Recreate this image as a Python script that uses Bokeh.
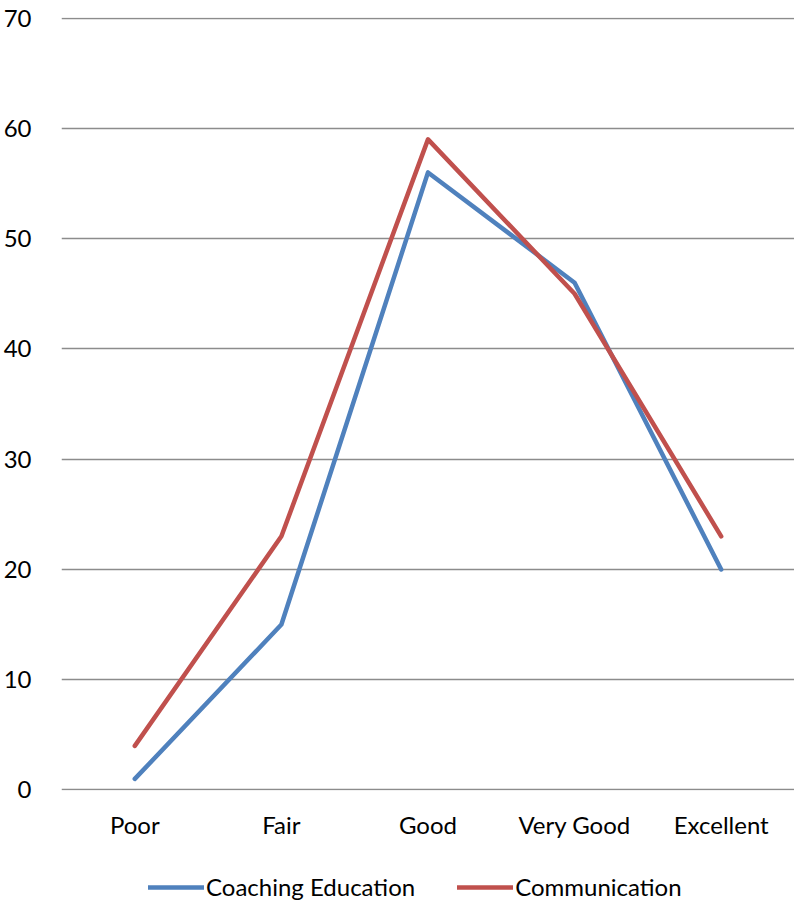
from bokeh.plotting import figure
from bokeh.layouts import column
from bokeh.models import Range1d, FactorRange, Legend, LegendItem, SingleIntervalTicker
from bokeh.embed import file_html
from bokeh.resources import INLINE

categories = ["Poor", "Fair", "Good", "Very Good", "Excellent"]
coaching_education = [1, 15, 56, 46, 20]
communication = [4, 23, 59, 45, 23]
series_names = ["Coaching Education", "Communication"]
colors = ["#4F81BD", "#C0504D"]

FONT = "Lato"

p = figure(frame_width=733, frame_height=773, output_backend="svg", toolbar_location=None,
           x_range=FactorRange(*categories), y_range=Range1d(-0.05, 70.05),
           min_border_left=54, min_border_right=0, min_border_top=17, min_border_bottom=55)

p.line(categories, coaching_education, line_color=colors[0], line_width=4.5,
       line_cap="round", line_join="round")
p.line(categories, communication, line_color=colors[1], line_width=4.5,
       line_cap="round", line_join="round")

p.outline_line_color = None
p.xgrid.grid_line_color = None
p.ygrid.grid_line_color = "#8C8C8C"
p.ygrid.grid_line_width = 1.5
p.yaxis.ticker = SingleIntervalTicker(interval=10)

for ax in (p.xaxis[0], p.yaxis[0]):
    ax.axis_line_color = None
    ax.major_tick_line_color = None
    ax.minor_tick_line_color = None
    ax.major_label_text_font = FONT
    ax.major_label_text_font_size = "24px"
    ax.major_label_text_color = "#000000"

p.yaxis.major_label_standoff = 24
p.xaxis.major_label_standoff = 13

# legend strip below the chart (same series, drawn outside its visible range)
lg = figure(width=787, height=56, output_backend="svg", toolbar_location=None,
            x_range=FactorRange(*categories), y_range=Range1d(1000, 1001),
            x_axis_location=None, y_axis_location=None,
            min_border=0)
lg.outline_line_color = None
lg.grid.visible = False
l1 = lg.line(categories, coaching_education, line_color=colors[0], line_width=4.5, line_cap="round")
l2 = lg.line(categories, communication, line_color=colors[1], line_width=4.5, line_cap="round")

legend = Legend(items=[LegendItem(label=series_names[0], renderers=[l1]),
                       LegendItem(label=series_names[1], renderers=[l2])],
                orientation="horizontal", location=(87, 0),
                border_line_color=None, background_fill_alpha=0,
                label_text_font=FONT, label_text_font_size="24px",
                label_text_color="#000000",
                glyph_width=56, label_standoff=2, spacing=42,
                padding=0, margin=0)
lg.add_layout(legend, "center")

layout = column(p, lg, spacing=0)
open("out.html", "w").write(file_html(layout, INLINE))
